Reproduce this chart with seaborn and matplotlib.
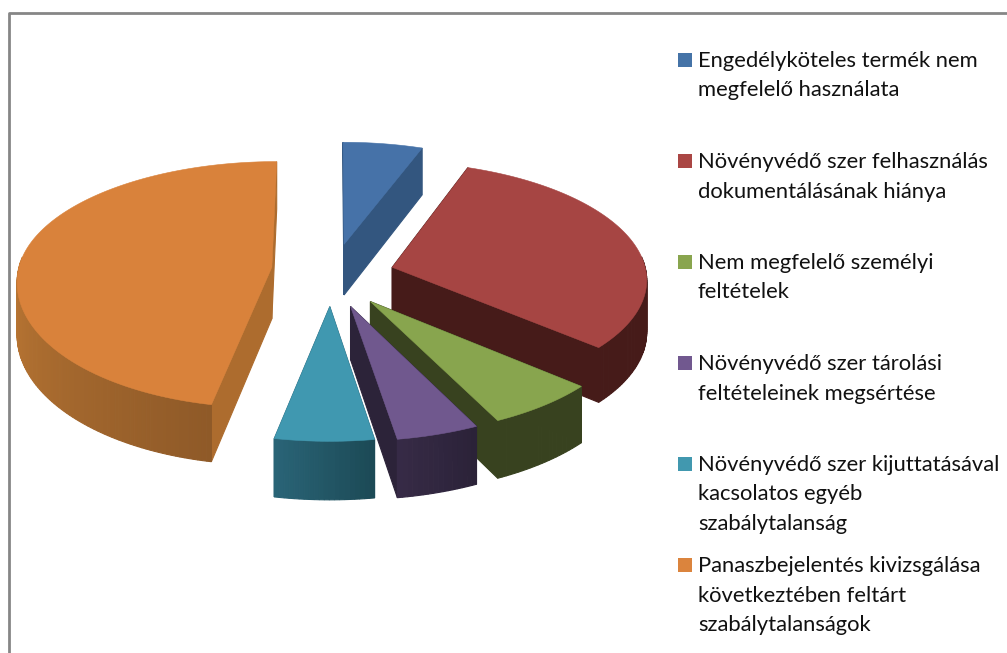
import numpy as np
import matplotlib
matplotlib.use("Agg")
import matplotlib.pyplot as plt
from matplotlib.colors import to_rgb
import seaborn as sns

categories = [
    "Engedélyköteles termék nem\nmegfelelő használata",
    "Növényvédő szer felhasználás\ndokumentálásának hiánya",
    "Nem megfelelő személyi\nfeltételek",
    "Növényvédő szer tárolási\nfeltételeinek megsértése",
    "Növényvédő szer kijuttatásával\nkacsolatos egyéb\nszabálytalanság",
    "Panaszbejelentés kivizsgálása\nkövetkeztében feltárt\nszabálytalanságok",
]
values = [5.6, 30.8, 6.4, 4.7, 5.6, 46.9]
explode = [0.30, 0.25, 0.25, 0.25, 0.24, 0.235]
lift = [0.0, 0.03, 0.0, 0.0, 0.0, 0.07]
front_stretch = [1.0, 1.0, 1.0, 1.0, 1.0, 1.1]

top_colors = ["#4672A8", "#A64543", "#88A54E", "#70588E", "#4098B0", "#D9823B"]
cut_colors = ["#33567F", "#461B19", "#38421F", "#2C2339", "#2A6578", "#AD6C2E"]
arc_start = ["#33567F", "#461B19", "#38421F", "#2B2238", "#1C4A56", "#8F5A28"]
arc_end = ["#33567F", "#461B19", "#38421F", "#372B47", "#2A6578", "#BD7834"]
legend_colors = ["#4573A7", "#AA4644", "#89A54E", "#71588F", "#4198AF", "#DB843D"]

CX, CY, A, B, K, DEPTH = 331.0, 278.0, 255.0, 117.0, 0.09, 52.0

sns.set_theme(style="white")
plt.rcParams["font.family"] = ["Lato", "DejaVu Sans"]
top_pal = sns.color_palette(top_colors)
leg_pal = sns.color_palette(legend_colors)

W, H = 1007, 653
fig = plt.figure(figsize=(W / 100, H / 100), dpi=100, facecolor="white")
ax = fig.add_axes([0, 0, 1, 1])
ax.set_xlim(0, W)
ax.set_ylim(H, 0)
ax.axis("off")

# chart frame (left and top edges only are inside the crop)
ax.plot([9, 9, W], [H, 12.5, 12.5], color="#868686", lw=2, solid_capstyle="butt")


def project(u, v, drop=0.0):
    s = 1.0 / (1.0 + K * v)
    return CX + A * u * s, CY - B * v * s + drop * DEPTH * s


fracs = np.array(values) / np.sum(values)
edges = np.concatenate([[0.0], np.cumsum(fracs)]) * 2 * np.pi
mids = (edges[:-1] + edges[1:]) / 2
order = np.argsort(-(np.array(explode) * np.cos(mids) + 0.5 * np.cos(mids)))


def blend(c1, c2, t):
    c1, c2 = np.array(to_rgb(c1)), np.array(to_rgb(c2))
    return tuple(c1 + (c2 - c1) * t)


for i in order:
    t0, t1 = edges[i], edges[i + 1]
    ou, ov = explode[i] * np.sin(mids[i]), explode[i] * np.cos(mids[i]) + lift[i]
    th = np.linspace(t0, t1, max(8, int((t1 - t0) * 60)))
    au = ou + np.sin(th)
    av = ov + np.cos(th) * np.where(np.cos(th) < 0, front_stretch[i], 1.0)

    faces = []
    lo, hi = max(t0, np.pi / 2), min(t1, 1.5 * np.pi)
    for j in range(len(th) - 1):
        if np.cos(th[j]) > 0.08 and np.cos(th[j + 1]) > 0.08:
            continue  # rear part of the rim is hidden
        uu = [au[j], au[j + 1]]
        vv = [av[j], av[j + 1]]
        col = blend(arc_start[i], arc_end[i], np.clip((th[j] - lo) / (hi - lo), 0, 1))
        faces.append((np.mean(vv), uu, vv, col))
    for k in (0, -1):
        uu = [ou, au[k]]
        vv = [ov, av[k]]
        faces.append((np.mean(vv), uu, vv, cut_colors[i]))
    faces.sort(key=lambda f: -f[0])
    for _, uu, vv, col in faces:
        x0, y0 = project(np.array(uu), np.array(vv))
        x1, y1 = project(np.array(uu), np.array(vv), 1.0)
        ax.fill(np.r_[x0, x1[::-1]], np.r_[y0, y1[::-1]], color=col, lw=0.8)

    x, y = project(np.r_[ou, au], np.r_[ov, av])
    ax.fill(x, y, color=top_pal[i], lw=0.4)

# legend
LEG_X, LEG_Y0, LEG_STEP = 698, 471, 101
for i, label in enumerate(categories):
    base = LEG_Y0 + (i - 4) * LEG_STEP
    ax.scatter([685], [base - 7], marker="s", s=(14 * 0.72) ** 2, color=leg_pal[i], linewidths=0)
    for n, line in enumerate(label.split("\n")):
        ax.text(LEG_X, base + n * 29.5, line, fontsize=15.8, color="#111111", va="baseline", ha="left")

fig.savefig("out.png", dpi=100, facecolor="white")
